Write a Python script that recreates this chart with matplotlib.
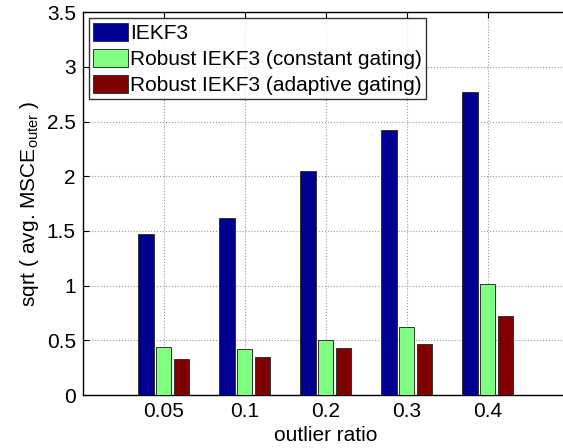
import matplotlib
matplotlib.use('Agg')
import matplotlib.pyplot as plt
import numpy as np

plt.rcParams['font.family'] = ['Liberation Sans', 'DejaVu Sans']
plt.rcParams['mathtext.fontset'] = 'custom'
plt.rcParams['mathtext.rm'] = 'Liberation Sans'
plt.rcParams['mathtext.it'] = 'Liberation Sans:italic'

ratios = ['0.05', '0.1', '0.2', '0.3', '0.4']
iekf3 = [1.47, 1.62, 2.05, 2.42, 2.77]
robust_const = [0.44, 0.42, 0.50, 0.62, 1.02]
robust_adapt = [0.33, 0.35, 0.43, 0.47, 0.72]
labels = ['IEKF3', 'Robust IEKF3 (constant gating)', 'Robust IEKF3 (adaptive gating)']
colors = ['#000090', '#80ff80', '#800000']

fs = 15

fig = plt.figure(figsize=(5.63, 4.48), dpi=100)
# the reference is cropped: the right edge of the axes lies outside the picture
ax = fig.add_axes([0.147, 0.118, 0.95, 0.855])

x = np.arange(1, len(ratios) + 1)
w = 0.19
off = 0.22
for i, (vals, lab, c) in enumerate(zip([iekf3, robust_const, robust_adapt], labels, colors)):
    ax.bar(x + (i - 1) * off, vals, w, color=c, edgecolor='#333333', linewidth=0.7,
           label=lab, zorder=3)

ax.set_xlim(0, 0.95 * 563 / 81)
ax.set_ylim(0, 3.5)
ax.set_xticks(x)
ax.set_xticklabels(ratios)
ax.set_yticks(np.arange(0, 3.51, 0.5))
ax.set_yticklabels(['0', '0.5', '1', '1.5', '2', '2.5', '3', '3.5'])
ax.tick_params(direction='in', labelsize=fs, top=True, right=False, length=4, pad=5)
ax.grid(True, linestyle=':', color='#999999', linewidth=0.8, zorder=0)
for s in ax.spines.values():
    s.set_linewidth(1.0)

ax.set_xlabel('outlier ratio', fontsize=fs, labelpad=1)
ax.xaxis.set_label_coords(0.5 * 6 / (0.95 * 563 / 81), -0.08)
ax.set_ylabel(r'sqrt ( avg. MSCE$_{\mathrm{outer}}$ )', fontsize=fs, labelpad=4)

leg = ax.legend(loc='upper left', fontsize=fs, frameon=True, fancybox=False,
                handlelength=1.65, handleheight=1.0, handletextpad=0.12,
                labelspacing=0.27, borderpad=0.2, borderaxespad=0.3)
leg.get_frame().set_edgecolor('black')
leg.get_frame().set_linewidth(1.0)

fig.savefig('out.png', dpi=100)
